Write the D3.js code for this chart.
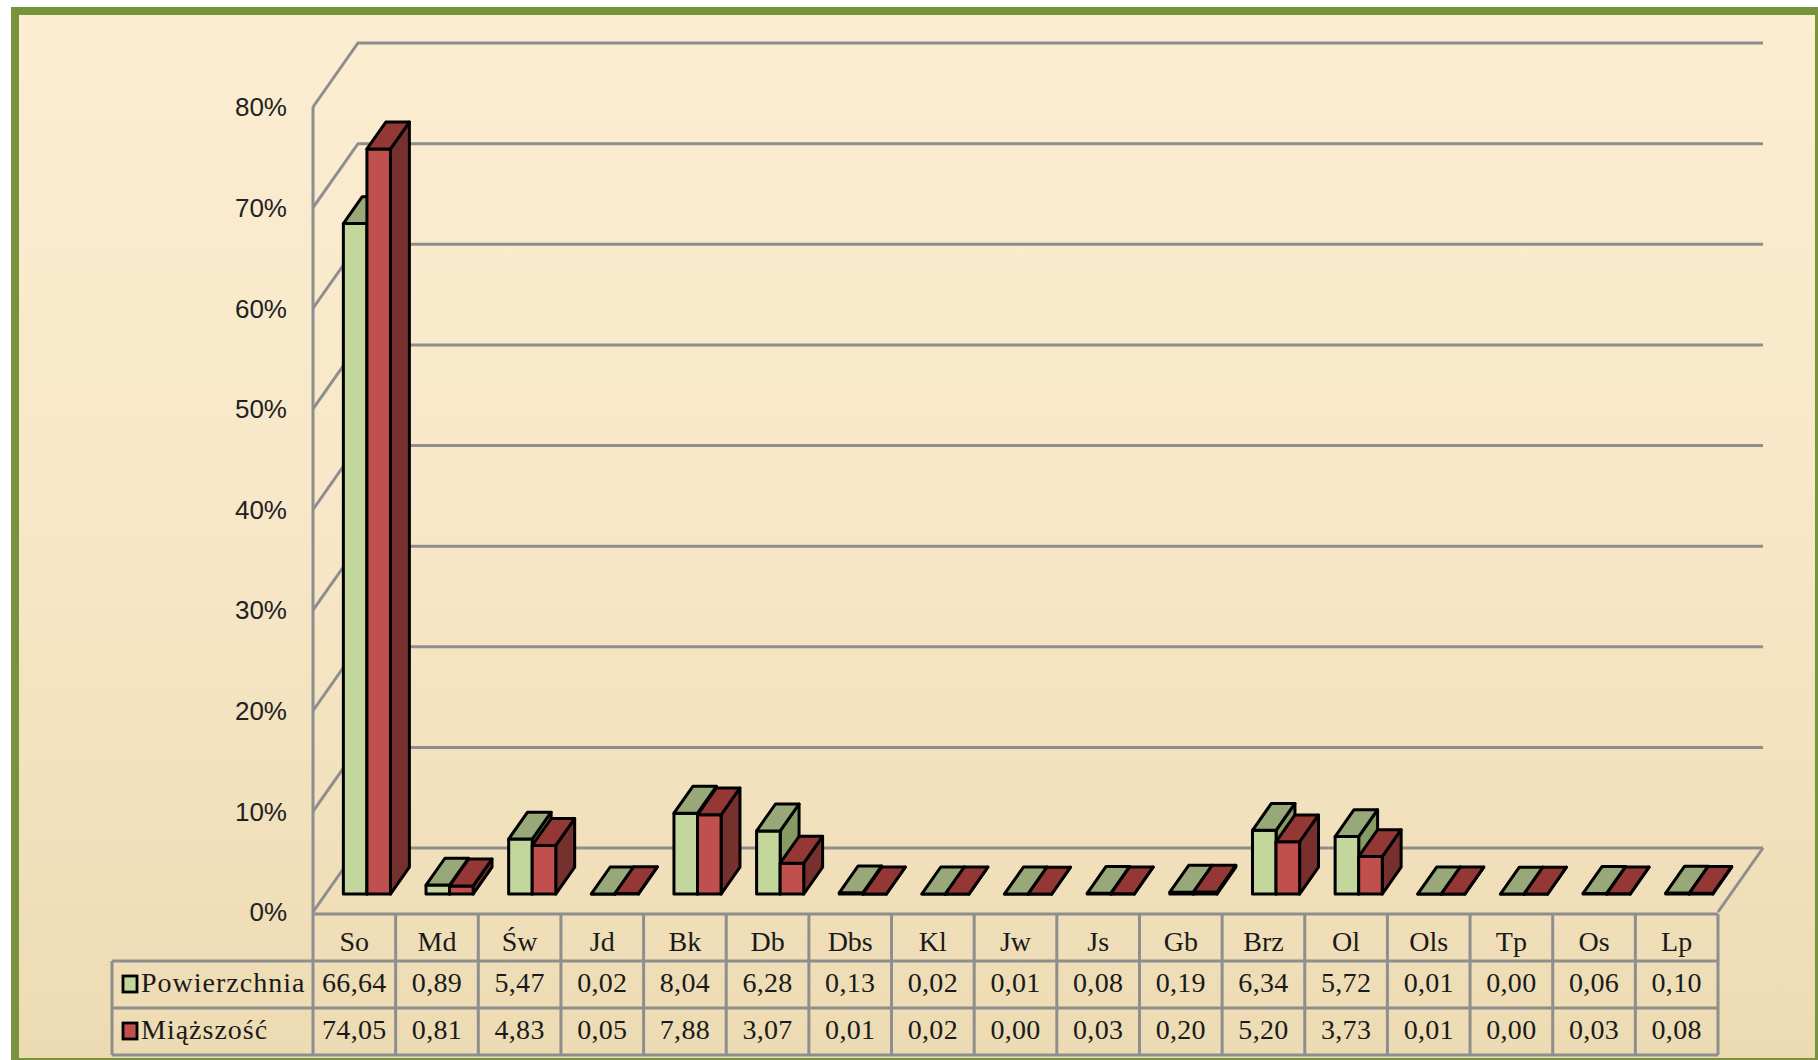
<!DOCTYPE html>
<html>
<head>
<meta charset="utf-8">
<script src="https://cdn.jsdelivr.net/npm/d3@7"></script>
<style>
  html, body { margin: 0; padding: 0; background: #ffffff; }
  svg { display: block; }
</style>
</head>
<body>
<svg id="chart" width="1818" height="1060"></svg>
<script>
// Udział gatunków: powierzchnia i miąższość (%)
const categories = ["So", "Md", "Św", "Jd", "Bk", "Db", "Dbs", "Kl", "Jw", "Js", "Gb", "Brz", "Ol", "Ols", "Tp", "Os", "Lp"];
const powierzchnia = [66.64, 0.89, 5.47, 0.02, 8.04, 6.28, 0.13, 0.02, 0.01, 0.08, 0.19, 6.34, 5.72, 0.01, 0.00, 0.06, 0.10];
const miazszosc    = [74.05, 0.81, 4.83, 0.05, 7.88, 3.07, 0.01, 0.02, 0.00, 0.03, 0.20, 5.20, 3.73, 0.01, 0.00, 0.03, 0.08];
const seriesNames  = ["Powierzchnia", "Miąższość"];
const yTicks       = [0, 10, 20, 30, 40, 50, 60, 70, 80];

const series = [
  { name: seriesNames[0], values: powierzchnia, front: "#C3D69B", top: "#98A878", side: "#869A64" },
  { name: seriesNames[1], values: miazszosc,    front: "#C0504D", top: "#943836", side: "#76302E" }
];

const svg = d3.select("#chart");

// frame background
const defs = svg.append("defs");
const grad = defs.append("linearGradient").attr("id", "bg")
  .attr("x1", 0).attr("y1", 0).attr("x2", 0).attr("y2", 1);
grad.append("stop").attr("offset", "0%").attr("stop-color", "#FDEDD1");
grad.append("stop").attr("offset", "45%").attr("stop-color", "#F8E8C9");
grad.append("stop").attr("offset", "100%").attr("stop-color", "#ECDBB2");

svg.append("rect")
  .attr("x", 15).attr("y", 11)
  .attr("width", 1804).attr("height", 1051)
  .attr("fill", "url(#bg)")
  .attr("stroke", "#77933C").attr("stroke-width", 8);

// plot geometry: front plane + depth offset
const x0 = 313, x1 = 1718;
const DX = 45, DY = -64;
const x = d3.scaleBand().domain(categories).range([x0, x1]).paddingInner(0).paddingOuter(0);
const y = d3.scaleLinear().domain([0, 80]).range([912, 107]);
const P = (px, v, d) => [px + d * DX, y(v) + d * DY];

const gridColor = "#8E8E8E";
const g = svg.append("g");

// walls: left diagonal gridlines and back wall horizontals
const gridG = g.append("g").attr("fill", "none").attr("stroke", gridColor).attr("stroke-width", 3);
yTicks.forEach(t => {
  const a = P(x0, t, 0), b = P(x0, t, 1), c = P(x1, t, 1);
  gridG.append("path").attr("d", d3.line()([a, b, c]));
});
gridG.append("line")
  .attr("x1", x0).attr("x2", x0)
  .attr("y1", y(80)).attr("y2", y(0) + 2);
// floor right edge
gridG.append("path").attr("d", d3.line()([P(x1, 0, 0), P(x1, 0, 1)]));

// y axis labels
g.append("g").selectAll("text").data(yTicks).join("text")
  .attr("x", 287).attr("y", d => y(d))
  .attr("dy", "0.36em")
  .attr("text-anchor", "end")
  .attr("font-family", "'Liberation Sans', Arial, sans-serif")
  .attr("font-size", 26)
  .attr("fill", "#222")
  .text(d => d + "%");

// 3D bars
const barW = x.bandwidth() * 0.285;
const d0 = 0.28, d1 = 0.70;
const barsG = g.append("g")
  .attr("stroke", "#000").attr("stroke-width", 3).attr("stroke-linejoin", "round");

categories.forEach((cat, i) => {
  const cx = x(cat) + x.bandwidth() / 2;
  series.forEach((s, k) => {
    const v = s.values[i];
    const L = cx - barW + k * barW, R = L + barW;
    const front = [P(L, 0, d0), P(R, 0, d0), P(R, v, d0), P(L, v, d0)];
    const top   = [P(L, v, d0), P(R, v, d0), P(R, v, d1), P(L, v, d1)];
    const side  = [P(R, 0, d0), P(R, 0, d1), P(R, v, d1), P(R, v, d0)];
    const line = d3.line().curve(d3.curveLinearClosed);
    barsG.append("path").attr("d", line(side)).attr("fill", s.side);
    barsG.append("path").attr("d", line(front)).attr("fill", s.front);
    barsG.append("path").attr("d", line(top)).attr("fill", s.top);
  });
});

// data table
const tableTop = 914, rowH = 47;
const rowY = [tableTop, tableTop + rowH, tableTop + 2 * rowH, tableTop + 3 * rowH];
const tableLeft = 112;
const tG = g.append("g").attr("stroke", gridColor).attr("stroke-width", 3).attr("fill", "none");
tG.append("line").attr("x1", x0).attr("x2", x1).attr("y1", rowY[0]).attr("y2", rowY[0]);
[1, 2, 3].forEach(r => {
  tG.append("line").attr("x1", tableLeft).attr("x2", x1).attr("y1", rowY[r]).attr("y2", rowY[r]);
});
tG.append("line").attr("x1", tableLeft).attr("x2", tableLeft).attr("y1", rowY[1]).attr("y2", rowY[3]);
categories.forEach(cat => {
  tG.append("line").attr("x1", x(cat)).attr("x2", x(cat)).attr("y1", rowY[0]).attr("y2", rowY[3]);
});
tG.append("line").attr("x1", x1).attr("x2", x1).attr("y1", rowY[0]).attr("y2", rowY[3]);

const serif = "'Liberation Serif', 'Times New Roman', serif";
const fmt = d3.formatLocale({ decimal: ",", thousands: " ", grouping: [3], currency: ["", ""] }).format(".2f");

g.append("g").selectAll("text").data(categories).join("text")
  .attr("x", d => x(d) + x.bandwidth() / 2)
  .attr("y", rowY[0] + 37)
  .attr("text-anchor", "middle")
  .attr("font-family", serif).attr("font-size", 28).attr("fill", "#1a1a1a")
  .text(d => d);

series.forEach((s, k) => {
  const ry = rowY[k + 1];
  g.append("g").selectAll("text").data(s.values).join("text")
    .attr("x", (d, i) => x(categories[i]) + x.bandwidth() / 2)
    .attr("y", ry + 31)
    .attr("text-anchor", "middle")
    .attr("font-family", serif).attr("font-size", 28).attr("fill", "#1a1a1a")
    .attr("letter-spacing", 0.3)
    .text(d => fmt(d));
  g.append("rect")
    .attr("x", 123).attr("y", ry + 15).attr("width", 14).attr("height", 16)
    .attr("fill", s.front).attr("stroke", "#000").attr("stroke-width", 2.8);
  g.append("text")
    .attr("x", 141).attr("y", ry + 31)
    .attr("font-family", serif).attr("font-size", 28).attr("fill", "#1a1a1a")
    .attr("letter-spacing", 1.0)
    .text(s.name);
});
</script>
</body>
</html>
